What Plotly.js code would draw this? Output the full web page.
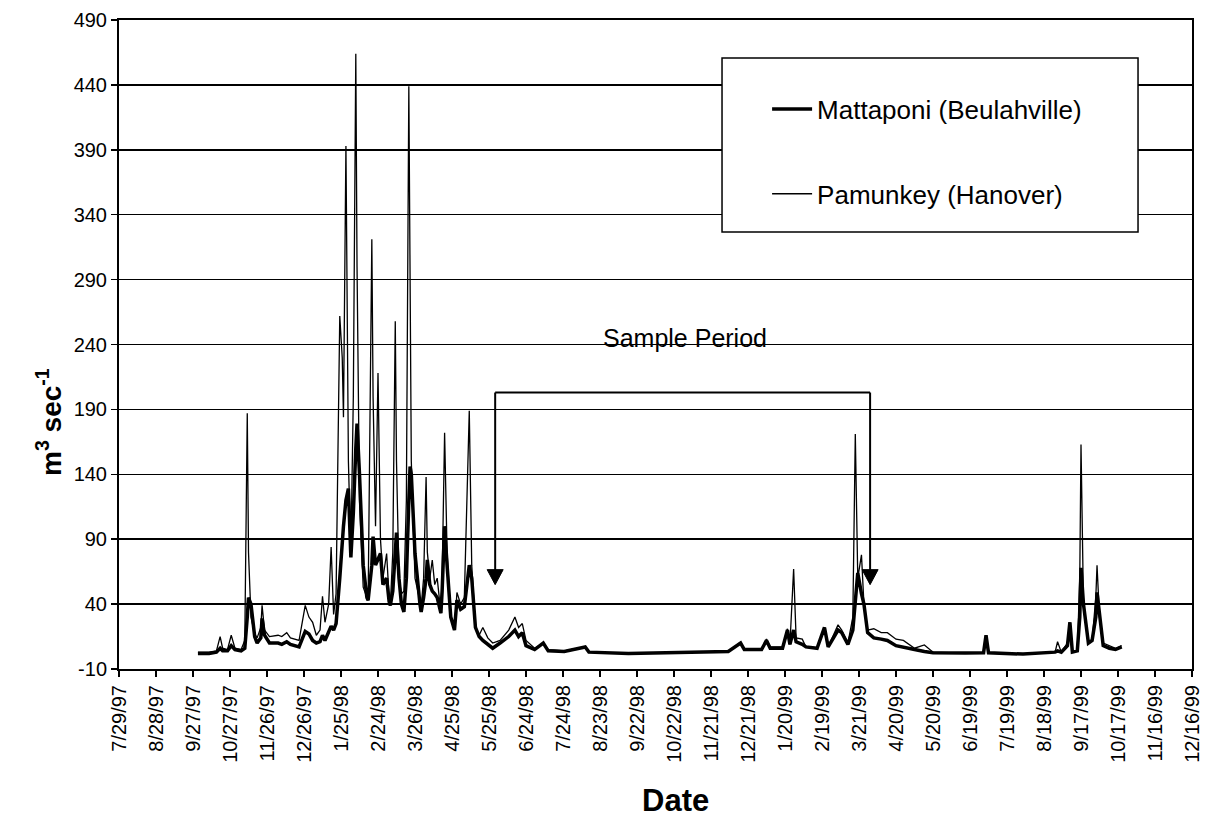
<!DOCTYPE html>
<html>
<head>
<meta charset="utf-8">
<script src="https://cdn.plot.ly/plotly-3.0.1.min.js"></script>
<style>
  html, body { margin: 0; padding: 0; background: #fff; }
  #chart { width: 1207px; height: 824px; }
</style>
</head>
<body>
<div id="chart"></div>
<script>
// Daily discharge (m^3 sec^-1)
const dates = [
  '1997-10-01','1997-10-10','1997-10-16','1997-10-19','1997-10-21','1997-10-25','1997-10-28','1997-10-31',
  '1997-11-05','1997-11-08','1997-11-10','1997-11-11','1997-11-13','1997-11-16','1997-11-18','1997-11-21',
  '1997-11-22','1997-11-24','1997-11-28','1997-12-05','1997-12-08','1997-12-12','1997-12-15','1997-12-22',
  '1997-12-27','1997-12-30','1998-01-02','1998-01-05','1998-01-08','1998-01-10','1998-01-12','1998-01-15',
  '1998-01-17','1998-01-19','1998-01-21','1998-01-24','1998-01-26','1998-01-27','1998-01-29','1998-01-31',
  '1998-02-02','1998-02-04','1998-02-06','1998-02-07','1998-02-09','1998-02-12','1998-02-15','1998-02-16',
  '1998-02-19','1998-02-20','1998-02-22','1998-02-24','1998-02-26','1998-02-28','1998-03-03','1998-03-05',
  '1998-03-06','1998-03-08','1998-03-10','1998-03-11','1998-03-13','1998-03-15','1998-03-17','1998-03-19',
  '1998-03-21','1998-03-22','1998-03-23','1998-03-26','1998-03-30','1998-03-31','1998-04-02','1998-04-04',
  '1998-04-05','1998-04-07','1998-04-09','1998-04-11','1998-04-13','1998-04-16','1998-04-17','1998-04-19',
  '1998-04-21','1998-04-24','1998-04-27','1998-04-29','1998-05-02','1998-05-05','1998-05-09','1998-05-11',
  '1998-05-14','1998-05-17','1998-05-20','1998-05-24','1998-05-28','1998-06-03','1998-06-10','1998-06-15',
  '1998-06-18','1998-06-21','1998-06-24','1998-07-01','1998-07-08','1998-07-12','1998-07-25','1998-08-11',
  '1998-08-14','1998-09-15','1998-10-15','1998-11-15','1998-12-05','1998-12-15','1998-12-18','1999-01-01',
  '1999-01-05','1999-01-08','1999-01-18','1999-01-22','1999-01-24','1999-01-27','1999-01-29','1999-02-03',
  '1999-02-06','1999-02-15','1999-02-21','1999-02-24','1999-03-04','1999-03-07','1999-03-12','1999-03-16',
  '1999-03-18','1999-03-20','1999-03-23','1999-03-25','1999-03-28','1999-04-02','1999-04-08','1999-04-13',
  '1999-04-20','1999-04-26','1999-05-05','1999-05-13','1999-05-20','1999-06-15','1999-06-30','1999-07-02',
  '1999-07-04','1999-08-01','1999-08-20','1999-08-27','1999-08-29','1999-09-01','1999-09-06','1999-09-08',
  '1999-09-10','1999-09-14','1999-09-16','1999-09-17','1999-09-19','1999-09-23','1999-09-26','1999-09-29',
  '1999-09-30','1999-10-02','1999-10-05','1999-10-10','1999-10-15','1999-10-20'
];

const mattaponi = [
  2,2,3,6,4,4,8,5,
  4,6,30,45,40,15,10,14,
  29,16,10,10,9,11,9,7,
  19,17,12,10,11,16,12,18,
  23,20,25,60,90,100,120,129,
  76,110,160,179,140,70,45,43,
  70,92,70,75,79,55,60,42,
  39,50,80,95,60,40,34,60,
  120,146,140,79,40,34,45,60,
  74,55,50,48,45,33,50,100,
  70,30,20,43,36,38,70,60,
  22,15,12,9,6,10,15,20,
  15,18,8,5,10,4,3.5,7,
  3,2,2.5,3,3.5,10,5,5,
  12,6,6,20,9,20,11,9,
  7,6,22,7,20,18,9,20,
  40,64,48,40,18,14,13,12,
  8,7,5,3.5,2.5,2.3,2.5,16,
  2.5,1.5,2.5,3,4,3,8,26,
  3,4,30,68,40,10,12,30,
  49,30,8,6,5,7
];

const pamunkey = [
  3,3,4,15,6,5,16,6,
  5,12,187,80,30,17,14,22,
  39,20,15,16,15,18,14,12,
  39,30,26,16,20,46,26,40,
  84,32,48,262,230,184,393,150,
  79,200,464,300,120,53,45,43,
  321,200,100,218,90,60,79,45,
  39,80,258,150,60,48,50,120,
  439,300,150,60,40,38,60,138,
  80,60,74,55,60,33,60,172,
  80,30,20,49,40,45,189,70,
  22,16,22,14,10,12,20,30,
  22,25,12,6,10,5,4,7,
  3,2,2.5,3,3.5,10.6,5,5,
  13,7,7,21,9,67,14,13,
  7,6,22,7,24,20,10,30,
  171,60,78,40,20,21,18,18,
  13,12,6,8.5,3,2.3,2.5,16,
  2.5,1.5,2.5,3,11,3,10,26,
  4,4,60,163,40,11,12,45,
  70,30,10,8,6,8
];

const seriesNames = ['Mattaponi (Beulahville)', 'Pamunkey (Hanover)'];
const yTickVals = [-10, 40, 90, 140, 190, 240, 290, 340, 390, 440, 490];
const samplePeriod = ['1998-05-30', '1999-03-30'];

const FONT = 'Arial, "Liberation Sans", Helvetica, sans-serif';

const traces = [
  {
    x: dates, y: mattaponi, name: seriesNames[0], type: 'scatter', mode: 'lines',
    line: {color: '#000', width: 3.5}, legendgroup: 'a'
  },
  {
    x: dates, y: pamunkey, name: seriesNames[1], type: 'scatter', mode: 'lines',
    line: {color: '#000', width: 1.3}, legendgroup: 'b'
  }
];

// bracket: top bar, two stems and two arrowheads (arrowheads sized in pixels)
const bracketTop = 203, arrowTip = 55;
const bracketShapes = [
  {type: 'line', xref: 'x', yref: 'y', x0: samplePeriod[0], x1: samplePeriod[1], y0: bracketTop, y1: bracketTop,
   line: {color: '#000', width: 2}}
];
samplePeriod.forEach(function (d) {
  bracketShapes.push({type: 'line', xref: 'x', yref: 'y', x0: d, x1: d, y0: bracketTop, y1: arrowTip + 8,
    line: {color: '#000', width: 2}});
  bracketShapes.push({type: 'path', xref: 'x', yref: 'y', xsizemode: 'pixel', ysizemode: 'pixel',
    xanchor: d, yanchor: arrowTip, path: 'M-8,15 L8,15 L0,0 Z',
    fillcolor: '#000', line: {color: '#000', width: 1}});
});

const layout = {
  width: 1207, height: 824,
  margin: {l: 119, r: 15, t: 20, b: 155},
  paper_bgcolor: '#fff', plot_bgcolor: '#fff',
  font: {family: FONT, color: '#000', size: 20},
  xaxis: {
    type: 'date',
    range: ['1997-07-29', '1999-12-16'],
    tick0: '1997-07-29', dtick: 30 * 86400000,
    tickformat: '%-m/%-d/%y', tickangle: -90,
    ticks: 'outside', ticklen: 6, tickwidth: 1.5, tickcolor: '#000',
    showline: true, linecolor: '#000', linewidth: 2, mirror: true,
    showgrid: false, zeroline: false,
    tickfont: {family: FONT, size: 20, color: '#000'}
  },
  yaxis: {
    range: [-10, 490], tickvals: yTickVals, ticktext: yTickVals.map(String),
    ticks: 'outside', ticklen: 6, tickwidth: 1.5, tickcolor: '#000',
    showline: true, linecolor: '#000', linewidth: 2, mirror: true,
    showgrid: true, gridcolor: '#000', gridwidth: 1.5, zeroline: false,
    tickfont: {family: FONT, size: 20, color: '#000'}
  },
  showlegend: true,
  legend: {
    x: 0.604, y: 0.899, xanchor: 'left', yanchor: 'top',
    bgcolor: 'rgba(0,0,0,0)', borderwidth: 0,
    font: {family: FONT, size: 26, color: '#000'},
    traceorder: 'grouped', tracegroupgap: 48, itemwidth: 40
  },
  shapes: [
    {type: 'rect', xref: 'paper', yref: 'paper', x0: 0.562, x1: 0.9497, y0: 0.6733, y1: 0.9414,
     line: {color: '#000', width: 1.5}, fillcolor: '#fff', layer: 'above'}
  ].concat(bracketShapes),
  annotations: [
    {x: '1998-10-31', y: 245, xref: 'x', yref: 'y', showarrow: false, text: 'Sample Period',
     font: {family: FONT, size: 25, color: '#000'}},
    {x: -0.0652, y: 0.3806, xref: 'paper', yref: 'paper', xanchor: 'center', yanchor: 'middle',
     textangle: -90, showarrow: false, text: '<b>m<sup>3</sup> sec<sup>-1</sup></b>',
     font: {family: FONT, size: 28, color: '#000'}},
    {x: 0.519, y: -0.203, xref: 'paper', yref: 'paper', xanchor: 'center', yanchor: 'middle',
     showarrow: false, text: '<b>Date</b>',
     font: {family: FONT, size: 31, color: '#000'}}
  ]
};

Plotly.newPlot('chart', traces, layout, {staticPlot: true, displayModeBar: false});
</script>
</body>
</html>
